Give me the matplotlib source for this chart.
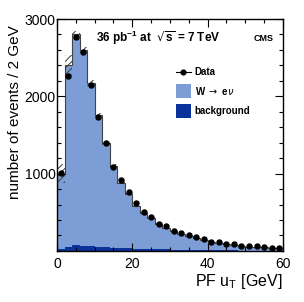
import numpy as np
import matplotlib
matplotlib.use("Agg")
import matplotlib.pyplot as plt
from matplotlib.ticker import MultipleLocator
from matplotlib.patches import Rectangle
from matplotlib.lines import Line2D

plt.rcParams['font.family'] = ['Liberation Sans', 'DejaVu Sans']
plt.rcParams['hatch.linewidth'] = 0.7

bin_edges = np.arange(0, 62, 2)
data = [1005, 2264, 2772, 2578, 2147, 1733, 1393, 1090, 914, 763,
        617, 509, 436, 349, 323, 263, 233, 207, 185, 152,
        120, 120, 94, 87, 65, 61, 65, 56, 35, 43]
mc_total = [1000, 2400, 2800, 2600, 2170, 1760, 1400, 1105, 880, 740,
            580, 490, 420, 350, 300, 255, 220, 195, 165, 140,
            115, 100, 90, 75, 65, 55, 50, 45, 38, 35]
background = [22, 55, 75, 65, 60, 50, 45, 40, 35, 35,
              30, 28, 25, 22, 20, 18, 15, 13, 12, 10,
              9, 8, 7, 6, 5, 5, 4, 4, 3, 3]
mc_unc = [120, 130, 40, 40, 35, 30, 25, 20, 15, 12,
          10, 9, 8, 7, 6, 5, 5, 4, 4, 3,
          3, 3, 2, 2, 2, 2, 2, 2, 1, 1]

c_sig = '#7c9dd6'
c_bkg = '#0a329a'

fig = plt.figure(figsize=(3.04, 3.02), dpi=100)
ax = fig.add_axes([0.1875, 0.169, 0.743, 0.768])

edges = np.array(bin_edges, dtype=float)
centers = 0.5 * (edges[:-1] + edges[1:])
tot = np.array(mc_total, float)
bkg = np.array(background, float)
unc = np.array(mc_unc, float)

ax.stairs(tot, edges, fill=True, color=c_sig, linewidth=0)
ax.stairs(bkg, edges, fill=True, color=c_bkg, linewidth=0)
ax.stairs(tot, edges, fill=False, color='#444444', linewidth=0.8)
ax.stairs(tot + unc, edges, baseline=tot - unc, fill=True, facecolor='none',
          edgecolor='#3a3a3a', hatch='/////', linewidth=0)

ax.plot(centers, data, 'o', color='black', markersize=3.6, zorder=5)

ax.set_xlim(0, 60)
ax.set_ylim(0, 3000)
ax.set_xticks([0, 20, 40, 60])
ax.set_yticks([1000, 2000, 3000])
ax.xaxis.set_minor_locator(MultipleLocator(5))
ax.yaxis.set_minor_locator(MultipleLocator(200))
ax.tick_params(which='both', direction='in', top=True, right=True, labelsize=10)
ax.tick_params(which='major', length=6, width=0.8)
ax.tick_params(which='minor', length=3, width=0.8)
ax.tick_params(axis='x', pad=4)
ax.tick_params(axis='y', pad=1)
for s in ax.spines.values():
    s.set_linewidth(1.0)

ax.set_ylabel('number of events / 2 GeV', fontsize=11)
ax.yaxis.set_label_coords(-0.155, 0.6)
ax.set_xlabel(r'PF u$_\mathregular{T}$ [GeV]', fontsize=11.5, loc='right', labelpad=1)

ax.text(0.447, 0.918, r'36 pb$^{\mathregular{-1}}$ at  $\sqrt{\mathregular{s}}$ = 7 TeV',
        transform=ax.transAxes, fontsize=8.5, fontweight='bold', ha='center', va='center')
ax.text(0.96, 0.918, 'CMS', transform=ax.transAxes, fontsize=6.5,
        fontweight='bold', ha='right', va='center')

# legend
lx = 0.527
tx = 0.61
ax.add_line(Line2D([lx, lx + 0.066], [0.772, 0.772], transform=ax.transAxes,
                   color='black', linewidth=0.8))
ax.plot([lx + 0.033], [0.772], 'o', color='black', markersize=3.4, transform=ax.transAxes)
ax.text(tx, 0.772, 'Data', transform=ax.transAxes, fontsize=7,
        fontweight='bold', va='center')
ax.add_patch(Rectangle((lx, 0.659), 0.066, 0.061, transform=ax.transAxes,
                       facecolor=c_sig, edgecolor='none'))
ax.text(tx, 0.69, r'W $\rightarrow$ e$\nu$', transform=ax.transAxes, fontsize=7,
        fontweight='bold', va='center')
ax.add_patch(Rectangle((lx, 0.573), 0.066, 0.061, transform=ax.transAxes,
                       facecolor=c_bkg, edgecolor='none'))
ax.text(tx, 0.604, 'background', transform=ax.transAxes, fontsize=7,
        fontweight='bold', va='center')

fig.savefig('out.png', dpi=100)
